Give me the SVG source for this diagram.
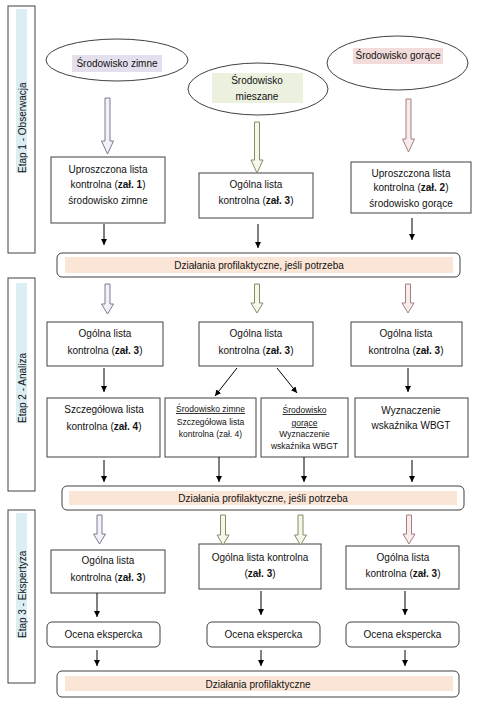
<svg xmlns="http://www.w3.org/2000/svg" width="480" height="709" viewBox="0 0 480 709">
<defs>
<marker id="ah" viewBox="0 0 10 10" refX="10" refY="5" markerWidth="6" markerHeight="6" markerUnits="userSpaceOnUse" orient="auto"><path d="M0,0 L10,5 L0,10 z" fill="#000"/></marker>
</defs>
<style>
text{font-family:"Liberation Sans",Arial,sans-serif;font-size:10px;fill:#111;text-anchor:middle}
.sm{font-size:8.5px}
.side{text-anchor:start}
.box{fill:#fff;stroke:#404040;stroke-width:1}
.bar{fill:#fff;stroke:#404040;stroke-width:1}
.peach{fill:#FBE5D6}
.blue{fill:#DAEEF3}
.conn{stroke:#000;stroke-width:1;fill:none;marker-end:url(#ah)}
.bp{fill:#F3F1F7;stroke:#7F7896;stroke-width:1}
.bg{fill:#F4F7EA;stroke:#838E62;stroke-width:1}
.br{fill:#F6ECEC;stroke:#A67F7F;stroke-width:1}
.u{text-decoration:underline}
.b{font-weight:bold}
</style>

<g id="stage1">
<rect x="8" y="6" width="27" height="247" class="box"/>
<rect x="16" y="9" width="11" height="164" class="blue"/>
<text class="side" transform="translate(26,173) rotate(-90)">Etap 1 - Obserwacja</text>
</g>
<g id="stage2">
<rect x="8" y="278" width="27" height="213" class="box"/>
<rect x="16" y="283" width="11" height="140" class="blue"/>
<text class="side" transform="translate(26,423) rotate(-90)">Etap 2 - Analiza</text>
</g>
<g id="stage3">
<rect x="8" y="510" width="27" height="173" class="box"/>
<rect x="16" y="513" width="11" height="125" class="blue"/>
<text class="side" transform="translate(26,638) rotate(-90)">Etap 3 - Ekspertyza</text>
</g>

<g id="env-cold">
<ellipse cx="117" cy="60" rx="71" ry="21" class="box"/>
<rect x="72" y="55" width="90" height="17" fill="#E4DFEC"/>
<text x="117" y="67">Środowisko zimne</text>
</g>
<g id="env-mixed">
<ellipse cx="258" cy="89" rx="70" ry="26" class="box"/>
<rect x="212" y="73" width="91" height="30" fill="#EBF1DE"/>
<text x="257" y="84">Środowisko</text>
<text x="257" y="100">mieszane</text>
</g>
<g id="env-hot">
<ellipse cx="397.5" cy="63" rx="70.5" ry="27" class="box"/>
<rect x="353" y="48" width="90" height="16" fill="#F2DCDB"/>
<text x="398" y="59">Środowisko gorące</text>
</g>

<g id="s1-cold">
<rect x="51" y="157" width="114" height="66" class="box"/>
<text x="108" y="173">Uproszczona lista</text>
<text x="108" y="188">kontrolna (<tspan class="b">zał. 1</tspan>)</text>
<text x="108" y="204">środowisko zimne</text>
</g>
<g id="s1-mixed">
<rect x="199" y="173" width="114" height="45" class="box"/>
<text x="256" y="188">Ogólna lista</text>
<text x="256" y="204">kontrolna (<tspan class="b">zał. 3</tspan>)</text>
</g>
<g id="s1-hot">
<rect x="351" y="162" width="120" height="51" class="box"/>
<text x="411" y="177">Uproszczona lista</text>
<text x="411" y="191">kontrolna (<tspan class="b">zał. 2</tspan>)</text>
<text x="411" y="207">środowisko gorące</text>
</g>

<g id="bar1">
<rect x="57" y="253" width="403" height="24" rx="5" class="bar"/>
<rect x="65" y="257" width="388" height="16" class="peach"/>
<text x="259" y="269">Działania profilaktyczne, jeśli potrzeba</text>
</g>

<g id="s2-cold">
<rect x="47" y="322" width="116" height="44" class="box"/>
<text x="105" y="337">Ogólna lista</text>
<text x="105" y="354">kontrolna (<tspan class="b">zał. 3</tspan>)</text>
</g>
<g id="s2-mixed">
<rect x="199" y="322" width="114" height="44" class="box"/>
<text x="256" y="337">Ogólna lista</text>
<text x="256" y="354">kontrolna (<tspan class="b">zał. 3</tspan>)</text>
</g>
<g id="s2-hot">
<rect x="351" y="322" width="111" height="44" class="box"/>
<text x="406" y="337">Ogólna lista</text>
<text x="406" y="354">kontrolna (<tspan class="b">zał. 3</tspan>)</text>
</g>

<g id="s2-cold-detail">
<rect x="47" y="398" width="113" height="59" class="box"/>
<text x="104" y="412.5">Szczegółowa lista</text>
<text x="104" y="429.5">kontrolna (<tspan class="b">zał. 4</tspan>)</text>
</g>
<g id="s2-mixed-cold">
<rect x="165" y="398" width="91" height="59" class="box"/>
<text x="210.5" y="412" class="sm u">Środowisko zimne</text>
<text x="210.5" y="425" class="sm">Szczegółowa lista</text>
<text x="210.5" y="437" class="sm">kontrolna (zał. 4)</text>
</g>
<g id="s2-mixed-hot">
<rect x="261" y="398" width="87" height="59" class="box"/>
<text x="304.5" y="413" class="sm u">Środowisko</text>
<text x="304.5" y="426" class="sm u">gorące</text>
<text x="304.5" y="437" class="sm">Wyznaczenie</text>
<text x="304.5" y="449" class="sm">wskaźnika WBGT</text>
</g>
<g id="s2-hot-wbgt">
<rect x="355" y="398" width="113" height="59" class="box"/>
<text x="411" y="414">Wyznaczenie</text>
<text x="411" y="428.5">wskaźnika WBGT</text>
</g>

<g id="bar2">
<rect x="62" y="486" width="402" height="24" rx="5" class="bar"/>
<rect x="69" y="491" width="388" height="14" class="peach"/>
<text x="263" y="501.5">Działania profilaktyczne, jeśli potrzeba</text>
</g>

<g id="s3-cold">
<rect x="51" y="550" width="114" height="43" class="box"/>
<text x="108" y="564">Ogólna lista</text>
<text x="108" y="580.5">kontrolna (<tspan class="b">zał. 3</tspan>)</text>
</g>
<g id="s3-mixed">
<rect x="199" y="544" width="122" height="45" class="box"/>
<text x="260" y="560.5">Ogólna lista kontrolna</text>
<text x="260" y="576.5">(<tspan class="b">zał. 3</tspan>)</text>
</g>
<g id="s3-hot">
<rect x="346" y="546" width="113" height="43" class="box"/>
<text x="403" y="560.5">Ogólna lista</text>
<text x="403" y="576.5">kontrolna (<tspan class="b">zał. 3</tspan>)</text>
</g>

<g id="expert-cold">
<rect x="47" y="622" width="113" height="25" rx="5" class="box"/>
<text x="103.5" y="638">Ocena ekspercka</text>
</g>
<g id="expert-mixed">
<rect x="207" y="622" width="113" height="25" rx="5" class="box"/>
<text x="263.5" y="638">Ocena ekspercka</text>
</g>
<g id="expert-hot">
<rect x="346" y="622" width="113" height="25" rx="5" class="box"/>
<text x="402.5" y="638">Ocena ekspercka</text>
</g>

<g id="bar3">
<rect x="57" y="671" width="402" height="26" rx="5" class="bar"/>
<rect x="65" y="676" width="388" height="15" class="peach"/>
<text x="258" y="687.5">Działania profilaktyczne</text>
</g>

<g id="connectors">
<path class="bp" d="M105,98 H110 V141 H113.5 L107.5,154 L101.5,141 H105 Z"/>
<path class="bg" d="M254.5,122 H259.5 V160 H263 L257,173 L251,160 H254.5 Z"/>
<path class="br" d="M406,99 H411 V139 H414.5 L408.5,152 L402.5,139 H406 Z"/>

<path class="bp" d="M105,284 H110 V304 H113.5 L107.5,314 L101.5,304 H105 Z"/>
<path class="bg" d="M254.5,284 H259.5 V303 H263 L257,313 L251,303 H254.5 Z"/>
<path class="br" d="M405.5,284 H410.5 V303 H414 L408,313 L402,303 H405.5 Z"/>

<path class="bp" d="M97,515 H102 V534 H105.5 L99.5,544 L93.5,534 H97 Z"/>
<path class="bg" d="M220.5,515 H225.5 V535 H229 L223,545 L217,535 H220.5 Z"/>
<path class="bg" d="M298,515 H303 V535 H306.5 L300.5,545 L294.5,535 H298 Z"/>
<path class="br" d="M406.5,515 H411.5 V534 H415 L409,544 L403,534 H406.5 Z"/>

<line class="conn" x1="104" y1="224" x2="104" y2="245"/>
<line class="conn" x1="258" y1="224" x2="258" y2="248"/>
<line class="conn" x1="412" y1="218" x2="412" y2="240"/>

<line class="conn" x1="104" y1="368" x2="104" y2="392"/>
<line class="conn" x1="237" y1="368" x2="215" y2="396"/>
<line class="conn" x1="277" y1="368" x2="297" y2="393"/>
<line class="conn" x1="408" y1="368" x2="408" y2="392"/>

<line class="conn" x1="104" y1="460" x2="104" y2="482"/>
<line class="conn" x1="219" y1="457" x2="219" y2="482"/>
<line class="conn" x1="304" y1="457" x2="304" y2="482"/>
<line class="conn" x1="412" y1="460" x2="412" y2="482"/>

<line class="conn" x1="97" y1="593" x2="97" y2="617"/>
<line class="conn" x1="261" y1="591" x2="261" y2="615"/>
<line class="conn" x1="405" y1="591" x2="405" y2="615"/>

<line class="conn" x1="97" y1="650" x2="97" y2="666"/>
<line class="conn" x1="261" y1="650" x2="261" y2="666"/>
<line class="conn" x1="405" y1="650" x2="405" y2="666"/>
</g>
</svg>
